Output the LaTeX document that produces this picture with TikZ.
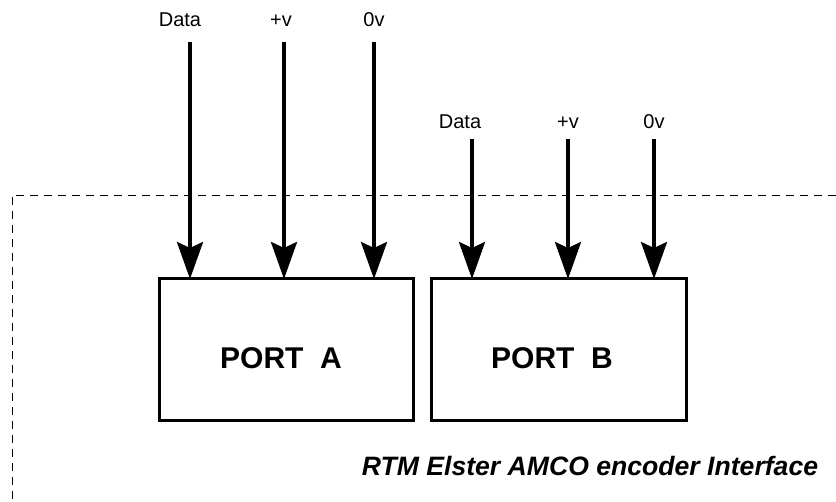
\documentclass[tikz,border=0pt]{standalone}
\usepackage{fontspec}
\setmainfont{Liberation Sans}
\usetikzlibrary{arrows.meta}

\tikzset{
  portbox/.style={draw, line width=3pt, rectangle, outer sep=0pt, inner sep=0pt,
                  minimum height=142pt},
  porttext/.style={inner sep=0pt, font=\fontsize{30}{34}\selectfont\bfseries},
  pinlabel/.style={anchor=base, inner sep=0pt, font=\fontsize{20}{22}\selectfont},
  feed/.style={line width=3.5pt, -{Stealth[length=37pt, width=26pt, inset=6pt]}},
  boundary/.style={line width=0.9pt, dash pattern=on 8pt off 6pt},
  caption/.style={anchor=base, inner sep=0pt, font=\fontsize{26.6}{30}\selectfont\bfseries\itshape}
}

\begin{document}
\begin{tikzpicture}[x=1pt, y=-1pt]
  \useasboundingbox (0,0) rectangle (836,502);

  % interface boundary (dashed corner)
  \coordinate (bndR) at (836,195);
  \coordinate (bndC) at (12,195);
  \coordinate (bndB) at (12,502);
  \draw[boundary] (bndR) -- (bndC) -- (bndB);

  % the two ports
  \node[portbox, minimum width=254pt] (portA) at (286,350) {};
  \node[portbox, minimum width=255pt] (portB) at (558.5,350) {};
  \node[porttext] (textA) at (281,358) {PORT~~A};
  \node[porttext] (textB) at (552,358) {PORT~~B};

  % port A supply lines
  \node[pinlabel] (aData) at (180,27) {Data};
  \node[pinlabel] (aPos)  at (281,27) {+v};
  \node[pinlabel] (aZero) at (374,27) {0v};
  \coordinate (aS1) at (190,42);
  \coordinate (aS2) at (284,42);
  \coordinate (aS3) at (374,42);
  \draw[feed] (aS1) -- (aS1 |- portA.north);
  \draw[feed] (aS2) -- (aS2 |- portA.north);
  \draw[feed] (aS3) -- (aS3 |- portA.north);

  % port B supply lines
  \node[pinlabel] (bData) at (460,129) {Data};
  \node[pinlabel] (bPos)  at (568,129) {+v};
  \node[pinlabel] (bZero) at (654,129) {0v};
  \coordinate (bS1) at (472,139);
  \coordinate (bS2) at (568,139);
  \coordinate (bS3) at (654,139);
  \draw[feed] (bS1) -- (bS1 |- portB.north);
  \draw[feed] (bS2) -- (bS2 |- portB.north);
  \draw[feed] (bS3) -- (bS3 |- portB.north);

  % caption
  \node[caption] (title) at (590,476) {RTM Elster AMCO encoder Interface};
\end{tikzpicture}
\end{document}
